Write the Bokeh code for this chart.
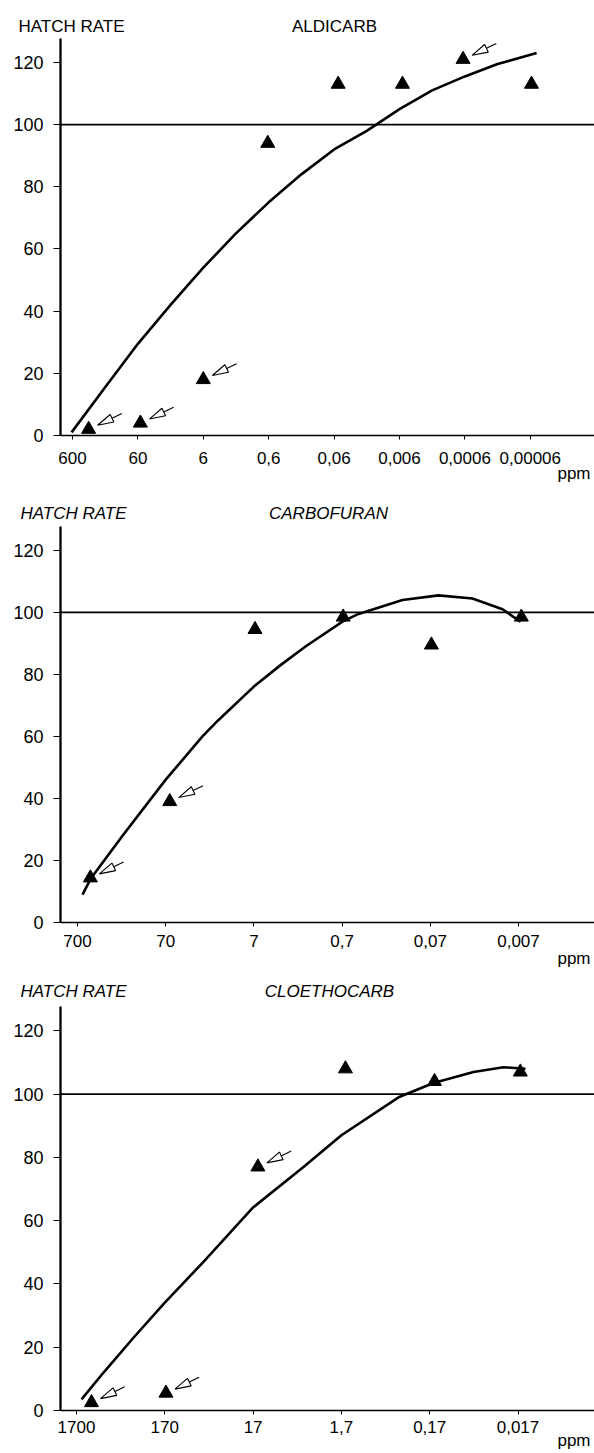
import math
from bokeh.plotting import figure
from bokeh.layouts import column
from bokeh.models import (Range1d, FixedTicker, CustomJSTickFormatter, Span, Title,
                          LogAxis)
from bokeh.embed import file_html
from bokeh.resources import INLINE

FONT = "Liberation Sans"
W = 594
LEFT = 60
FRAME_W = W - LEFT
Y_TOP = 127.7
RATE_TICKS = [0, 20, 40, 60, 80, 100, 120]
HEAD_TEXT = "HATCH RATE"

# ---------------- ALDICARB ----------------
ald_ticks = [600, 60, 6, 0.6, 0.06, 0.006, 0.0006, 0.00006]
ald_labels = ["600", "60", "6", "0,6", "0,06", "0,006", "0,0006", "0,00006"]
ald_ppm = [340, 55, 6, 0.62, 0.052, 0.0054, 0.00064, 0.0000575]
ald_rate = [2, 4, 18, 94, 113, 113, 121, 113]
ald_arrows = [0, 1, 2, 6]
ald_curve_ppm = [620, 190, 60, 19, 6, 1.9, 0.6, 0.19, 0.06, 0.019, 0.006, 0.0019,
                 0.0006, 0.00019, 0.000048]
ald_curve_rate = [1, 15.5, 29.5, 42, 54, 65, 75, 84, 92, 98, 105, 111, 115.5, 119.5, 123]

# ---------------- CARBOFURAN ----------------
carb_ticks = [700, 70, 7, 0.7, 0.07, 0.007]
carb_labels = ["700", "70", "7", "0,7", "0,07", "0,007"]
carb_ppm = [500, 63, 6.8, 0.68, 0.068, 0.0065]
carb_rate = [14.4, 39, 94.5, 98.5, 89.5, 98.5]
carb_arrows = [0, 1]
carb_curve_ppm = [614, 499, 216, 70.3, 26.8, 18.1, 7.06, 3.49, 1.82, 0.693, 0.456,
                  0.1446, 0.0565, 0.0233, 0.01062, 0.00664]
carb_curve_rate = [9, 14, 28, 46, 60, 65, 76, 83, 89, 97, 99.5, 104, 105.5, 104.5, 101, 97]

# ---------------- CLOETHOCARB ----------------
cloe_ticks = [1700, 170, 17, 1.7, 0.17, 0.017]
cloe_labels = ["1700", "170", "17", "1,7", "0,17", "0,017"]
cloe_ppm = [1150, 165, 15, 1.53, 0.15, 0.016]
cloe_rate = [2.5, 5.5, 77, 108, 104, 107]
cloe_arrows = [0, 1, 2]
cloe_curve_ppm = [1492, 840, 385, 171, 62, 17.3, 4.57, 1.70, 0.383, 0.154, 0.0543,
                  0.0248, 0.01398]
cloe_curve_rate = [3.5, 12, 23, 34, 47, 64, 77, 87, 99, 103.5, 107, 108.5, 108]


def make_panel(name, italic, ticks, labels, tick0_px, pxdec, frame_h,
               border_top, border_bottom, head_dx, name_dx, head_standoff,
               tick_standoff, ppm_standoff,
               pt_ppm, pt_rate, arrow_idx, c_ppm, c_rate):
    height = border_top + frame_h + border_bottom
    lstart = math.log10(ticks[0]) + tick0_px / pxdec
    lend = lstart - FRAME_W / pxdec
    p = figure(width=W, height=height, x_axis_type="log",
               x_range=Range1d(10 ** lstart, 10 ** lend),
               y_range=Range1d(0, Y_TOP), title=None,
               output_backend="svg", toolbar_location=None,
               min_border_left=LEFT, min_border_right=0,
               min_border_top=border_top, min_border_bottom=border_bottom)
    p.grid.visible = False
    p.outline_line_color = None
    p.background_fill_color = "white"
    p.border_fill_color = "white"

    xa = p.xaxis[0]
    xa.ticker = FixedTicker(ticks=ticks, minor_ticks=[])
    xa.formatter = CustomJSTickFormatter(
        args=dict(tvals=ticks, tlabels=labels),
        code="const i = tvals.indexOf(tick); return i >= 0 ? tlabels[i] : '';")
    xa.axis_line_width = 1.6
    xa.axis_line_color = "black"
    xa.major_tick_out = 4
    xa.major_tick_in = 0
    xa.major_tick_line_color = "black"
    xa.minor_tick_line_color = None
    xa.major_label_standoff = tick_standoff
    xa.major_label_text_font = FONT
    xa.major_label_text_font_size = "17px"
    xa.major_label_text_color = "black"

    ya = p.yaxis[0]
    ya.ticker = FixedTicker(ticks=RATE_TICKS, minor_ticks=[])
    ya.axis_line_width = 2.3
    ya.axis_line_color = "black"
    ya.major_tick_out = 7
    ya.major_tick_in = 0
    ya.major_tick_line_color = "black"
    ya.minor_tick_line_color = None
    ya.major_label_standoff = 10
    ya.major_label_text_font = FONT
    ya.major_label_text_font_size = "18px"
    ya.major_label_text_color = "black"

    # heading row (HATCH RATE + compound name) as labels of an invisible top axis
    style = "italic" if italic else "normal"
    hvals = [10 ** (lstart - head_dx / pxdec), 10 ** (lstart - name_dx / pxdec)]
    htexts = [HEAD_TEXT, name]
    top = LogAxis(ticker=FixedTicker(ticks=hvals, minor_ticks=[]),
                  formatter=CustomJSTickFormatter(
                      args=dict(tvals=hvals, tlabels=htexts),
                      code="const i = tvals.indexOf(tick); return i >= 0 ? tlabels[i] : '';"),
                  axis_line_color=None, major_tick_line_color=None,
                  minor_tick_line_color=None, major_tick_out=0, major_tick_in=0,
                  major_label_standoff=head_standoff,
                  major_label_text_font=FONT, major_label_text_font_size="17px",
                  major_label_text_font_style=style, major_label_text_color="black")
    p.add_layout(top, "above")

    p.add_layout(Title(text="ppm", align="right", offset=4, vertical_align="top",
                       standoff=ppm_standoff, text_font=FONT, text_font_size="17px",
                       text_font_style="normal", text_color="black"), "below")

    p.add_layout(Span(location=100, dimension="width", line_color="black", line_width=1.6))
    p.line(c_ppm, c_rate, line_width=2.6, color="black", line_join="round")
    p.scatter(pt_ppm, pt_rate, marker="triangle", size=14, color="black")

    # hollow arrows pointing at marked points (offsets in pixels)
    pxunit = frame_h / Y_TOP
    ang = math.radians(26)
    d = (math.cos(ang), math.sin(ang))
    n = (-d[1], d[0])
    tip = (9.0, 4.0)
    hl, hw, tl = 16.0, 4.2, 11.0
    back = (tip[0] + hl * d[0], tip[1] + hl * d[1])
    c1 = (back[0] + hw * n[0], back[1] + hw * n[1])
    c2 = (back[0] - hw * n[0], back[1] - hw * n[1])
    tend = (back[0] + tl * d[0], back[1] + tl * d[1])
    hx, hy, sx0, sy0, sx1, sy1 = [], [], [], [], [], []

    def cx(ppm, dx):
        return ppm * 10 ** (-dx / pxdec)

    def cy(r, dy):
        return r + dy / pxunit

    for i in arrow_idx:
        x0, y0 = pt_ppm[i], pt_rate[i]
        hx.append([cx(x0, tip[0]), cx(x0, c1[0]), cx(x0, c2[0])])
        hy.append([cy(y0, tip[1]), cy(y0, c1[1]), cy(y0, c2[1])])
        sx0.append(cx(x0, back[0])); sy0.append(cy(y0, back[1]))
        sx1.append(cx(x0, tend[0])); sy1.append(cy(y0, tend[1]))
    p.segment(sx0, sy0, sx1, sy1, line_color="black", line_width=1.1)
    p.patches(hx, hy, fill_color="white", line_color="black", line_width=1.1)
    return p


p1 = make_panel("ALDICARB", False, ald_ticks, ald_labels, 12, 65.4, 397, 38, 53,
                11, 274, 3, 12, -6,
                ald_ppm, ald_rate, ald_arrows, ald_curve_ppm, ald_curve_rate)
p2 = make_panel("CARBOFURAN", True, carb_ticks, carb_labels, 17, 88.2, 396, 38, 54,
                13, 268, 4, 8, -2,
                carb_ppm, carb_rate, carb_arrows, carb_curve_ppm, carb_curve_rate)
p3 = make_panel("CLOETHOCARB", True, cloe_ticks, cloe_labels, 16, 88.3, 404, 30, 43,
                13, 269, 6, 6, -10,
                cloe_ppm, cloe_rate, cloe_arrows, cloe_curve_ppm, cloe_curve_rate)

layout = column(p1, p2, p3, spacing=0)
open("out.html", "w").write(file_html(layout, INLINE))
